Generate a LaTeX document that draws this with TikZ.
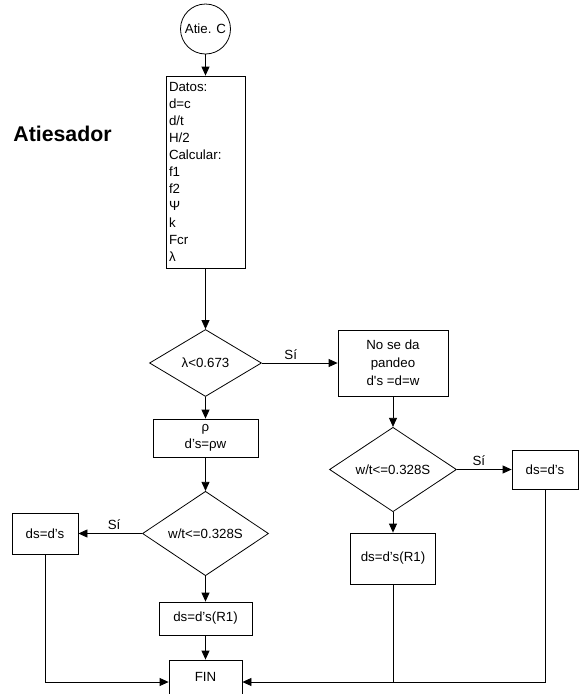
\documentclass[tikz,border=0pt]{standalone}
\usepackage{fontspec}
\setmainfont{Liberation Sans}
\usetikzlibrary{shapes.geometric,arrows.meta,calc,positioning}

\tikzset{
    caja/.style={draw, rectangle, line width=0.8pt, inner sep=2pt, align=center},
    rombo/.style={draw, diamond, line width=0.8pt, inner sep=0pt},
    flecha/.style={line width=0.8pt, -{Triangle[length=9pt,width=8pt]}},
    linea/.style={line width=0.8pt}
}

\begin{document}
\begin{tikzpicture}[x=1pt, y=-1pt, font=\fontsize{13.3}{17}\selectfont]
    \useasboundingbox (0,0) rectangle (582,694);
    % titulo
    \node[font=\fontsize{21.3}{25}\selectfont\bfseries] (titulo) at (62.5,134) {Atiesador};
    % columna izquierda
    \node[draw, circle, line width=0.8pt, minimum size=50pt, inner sep=0pt] (inicio) at (205.5,29) {Atie. C};
    \node[caja, align=left, text width=73pt, inner xsep=3pt, inner ysep=0pt, minimum height=192pt] (datos) at (205.5,172)
        {Datos:\\d=c\\d/t\\H/2\\Calcular:\\f1\\f2\\Ψ\\k\\Fcr\\λ};
    \node[rombo, minimum width=112pt, minimum height=67pt] (cond1) at (205.5,363) {λ<0.673};
    \node[caja, minimum width=105pt, minimum height=38pt] (reduc) at (205.5,438) {ρ\\d’s=ρw};
    \node[rombo, minimum width=126pt, minimum height=76pt] (cond2) at (205.5,533.5) {w/t<=0.328S};
    \node[caja, minimum width=66pt, minimum height=41pt] (dsizq) at (45,533.5) {ds=d’s};
    \node[caja, minimum width=93pt, minimum height=33pt] (r1izq) at (205.5,618.5) {ds=d’s(R1)};
    \node[caja, minimum width=73pt, minimum height=34pt] (fin) at (205.5,677) {FIN};
    % columna derecha
    \node[caja, minimum width=110pt, minimum height=66pt] (sinpandeo) at (393,363) {No se da\\[1pt]pandeo\\[1pt]d\textquotesingle s =d=w};
    \node[rombo, minimum width=127pt, minimum height=76pt] (cond3) at (393,469.5) {w/t<=0.328S};
    \node[caja, minimum width=66pt, minimum height=39pt] (dsder) at (545,469.5) {ds=d’s};
    \node[caja, minimum width=85pt, minimum height=51pt] (r1der) at (393,558.5) {ds=d’s(R1)};

    \coordinate (finL) at ($(fin.west)+(0,5)$);
    \coordinate (finR) at ($(fin.east)+(0,5)$);

    % flechas
    \draw[flecha] (inicio) -- (datos);
    \draw[flecha] (datos) -- (cond1);
    \draw[flecha] (cond1) -- node[above, pos=0.38] {Sí} (sinpandeo);
    \draw[flecha] (cond1) -- (reduc);
    \draw[flecha] (reduc) -- (cond2);
    \draw[flecha] (cond2) -- node[above, pos=0.44] {Sí} (dsizq);
    \draw[flecha] (cond2) -- (r1izq);
    \draw[flecha] (r1izq) -- (fin);
    \draw[flecha] (sinpandeo) -- (cond3);
    \draw[flecha] (cond3) -- node[above, pos=0.4] {Sí} (dsder);
    \draw[flecha] (cond3) -- (r1der);
    \draw[flecha] (dsizq) |- (finL);
    \draw[flecha] (dsder) |- (finR);
    \draw[linea] (r1der) -- (r1der |- finR);
\end{tikzpicture}
\end{document}
